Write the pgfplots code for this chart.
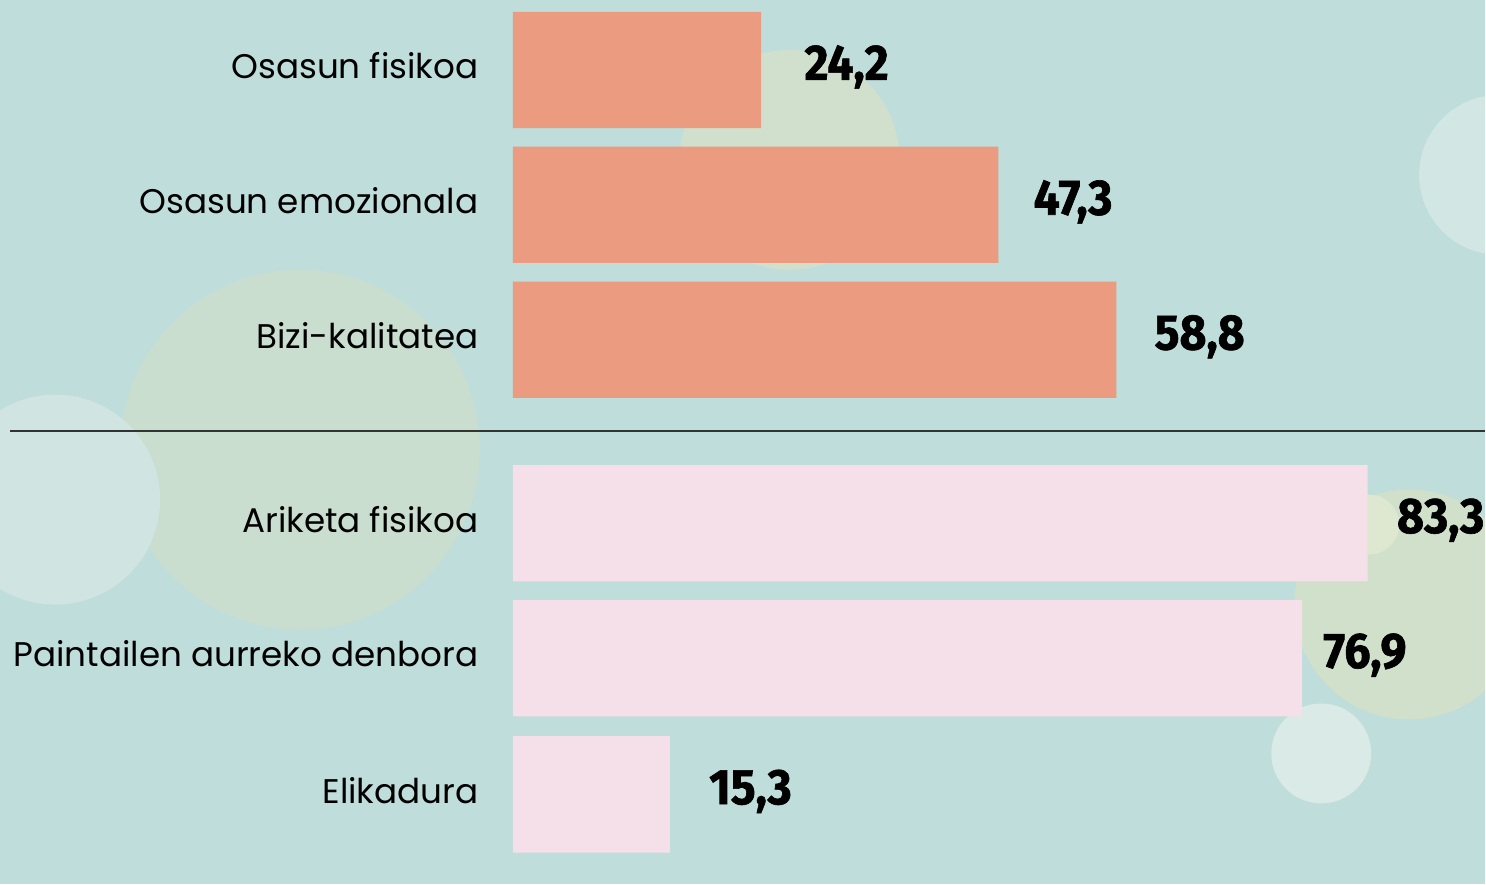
\documentclass[border=0pt]{standalone}
\usepackage{fontspec}
\setmainfont{Poppins}
\newfontfamily\valfont[FakeStretch=0.93, FakeBold=1.2]{Fira Sans}
\usepackage{pgfplots}
\usepackage{pgfplotstable}
\pgfplotsset{compat=1.18}
\definecolor{bg}{HTML}{BEDDDB}
\definecolor{barA}{HTML}{EA9B80}
\definecolor{barB}{HTML}{F5DFE9}

\pgfplotstableread{
y val off lab
0 24.2 21.5 24,2
1 47.3 17.5 47,3
2 58.8 19 58,8
}\groupA
\pgfplotstableread{
y val off lab
3.36 83.3 14.5 83,3
4.36 76.9 10.5 76,9
5.37 15.3 19.5 15,3
}\groupB

\begin{document}
\begin{tikzpicture}
\fill[bg] (0,0) rectangle (743pt,442.5pt);
\begin{scope}
\clip (0,0) rectangle (743pt,442.5pt);
\fill[color={rgb,255:red,201;green,222;blue,207}] (150pt,217.5pt) circle (90pt);
\fill[color={rgb,255:red,208;green,229;blue,226}] (27.5pt,192.5pt) circle (52.5pt);
\fill[color={rgb,255:red,209;green,224;blue,204}] (395pt,362.5pt) circle (55pt);
\fill[color={rgb,255:red,210;green,230;blue,227}] (750pt,355pt) circle (40pt);
\fill[color={rgb,255:red,209;green,224;blue,203}] (705pt,140pt) circle (57.5pt);
\fill[color={rgb,255:red,218;green,234;blue,231}] (661pt,65.5pt) circle (25pt);
\fill[color={rgb,255:red,222;green,231;blue,208}] (685pt,180pt) circle (15pt);
\end{scope}
\begin{axis}[
  at={(0,0)}, anchor=south west,
  width=743pt, height=442.5pt, scale only axis,
  xmin=-49.95, xmax=94.74,
  ymin=-0.5185, ymax=6.037, y dir=reverse,
  axis line style={draw=none},
  major tick length=0pt,
  xtick=\empty,
  ytick={0,1,2,3.36,4.36,5.37},
  yticklabels={Osasun fisikoa,Osasun emozionala,Bizi-kalitatea,Ariketa fisikoa,Paintailen aurreko denbora,Elikadura},
  yticklabel style={anchor=east, inner sep=0pt, xshift=239.5pt, yshift=2pt, font=\fontsize{17.1}{20}\selectfont, text=black},
  xbar, bar width=0.862, bar shift=0pt,
  clip=false,
  point meta=explicit symbolic,
  nodes near coords,
  visualization depends on={\thisrow{off}\as\off},
  every node near coord/.append style={anchor=west, inner sep=0pt, xshift=\off pt, yshift=1.5pt, font=\valfont\bfseries\fontsize{25}{28}\selectfont, text=black},
]
\addplot[fill=barA, draw=none] table[x=val, y=y, meta=lab] {\groupA};
\addplot[fill=barB, draw=none] table[x=val, y=y, meta=lab] {\groupB};
\draw[line width=0.9pt, color=black!80] (axis cs:-48.98,2.674) -- (axis cs:94.74,2.674);
\end{axis}
\end{tikzpicture}
\end{document}
